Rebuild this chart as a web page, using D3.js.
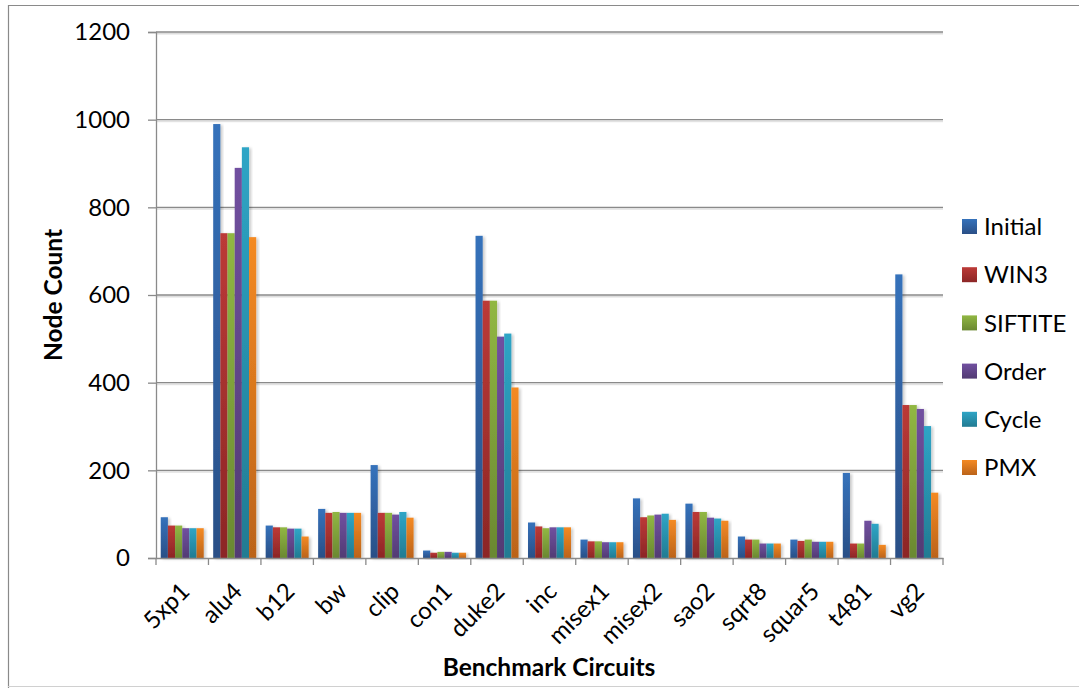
<!DOCTYPE html>
<html>
<head>
<meta charset="utf-8">
<script src="https://cdn.jsdelivr.net/npm/d3@7"></script>
<style>
  html, body { margin: 0; padding: 0; background: #fff; }
  svg { display: block; }
  text { font-family: Lato, "Open Sans", sans-serif; fill: #000; }
</style>
</head>
<body>
<svg id="chart" width="1079" height="688"></svg>
<script>
// Benchmark circuits on the x axis
const categories = ["5xp1", "alu4", "b12", "bw", "clip", "con1", "duke2", "inc",
  "misex1", "misex2", "sao2", "sqrt8", "squar5", "t481", "vg2"];

// Node count per method, one array per series
const seriesNames = ["Initial", "WIN3", "SIFTITE", "Order", "Cycle", "PMX"];
const initial = [93, 990, 74, 112, 212, 17, 735, 81, 42, 136, 124, 49, 42, 194, 647];
const win3    = [74, 741, 70, 103, 103, 12, 587, 72, 38, 93, 105, 42, 39, 33, 349];
const siftite = [74, 741, 70, 105, 103, 14, 587, 68, 38, 97, 105, 42, 42, 33, 349];
const order   = [68, 890, 67, 103, 99, 14, 505, 70, 36, 99, 92, 33, 37, 85, 340];
const cycle   = [68, 937, 67, 103, 105, 12, 512, 70, 36, 101, 90, 33, 37, 78, 301];
const pmx     = [68, 732, 49, 103, 92, 12, 389, 70, 36, 87, 85, 33, 37, 30, 149];
const seriesValues = [initial, win3, siftite, order, cycle, pmx];

const yTicks = [0, 200, 400, 600, 800, 1000, 1200];

// Gradient stops (top, bottom) for each series
const colors = [
  ["#3572bb", "#2a4f86"],
  ["#bc3a37", "#8c2626"],
  ["#91b743", "#6a8831"],
  ["#7150a0", "#523b73"],
  ["#2fa5c6", "#227b92"],
  ["#f48a24", "#bb6319"]
];

const svg = d3.select("#chart");
const defs = svg.append("defs");

colors.forEach((c, i) => {
  const g = defs.append("linearGradient")
    .attr("id", "grad" + i).attr("x1", 0).attr("y1", 0).attr("x2", 0).attr("y2", 1);
  g.append("stop").attr("offset", "0%").attr("stop-color", c[0]);
  g.append("stop").attr("offset", "100%").attr("stop-color", c[1]);
});

const shadow = defs.append("filter").attr("id", "shadow")
  .attr("x", "-50%").attr("y", "-10%").attr("width", "200%").attr("height", "130%");
shadow.append("feDropShadow").attr("dx", 2).attr("dy", 1)
  .attr("stdDeviation", 1.8).attr("flood-color", "#000").attr("flood-opacity", 0.22);

const lineShadow = defs.append("filter").attr("id", "lineShadow")
  .attr("filterUnits", "userSpaceOnUse")
  .attr("x", 0).attr("y", 0).attr("width", 1079).attr("height", 688);
lineShadow.append("feDropShadow").attr("dx", 0).attr("dy", 1.5)
  .attr("stdDeviation", 0.6).attr("flood-color", "#000").attr("flood-opacity", 0.18);

// Outer frame
svg.append("path")
  .attr("d", "M8.5,688 L8.5,5.5 L1079,5.5")
  .attr("fill", "none").attr("stroke", "#8a8a8a").attr("stroke-width", 1.2);
svg.append("line")
  .attr("x1", 8).attr("x2", 1079).attr("y1", 686.5).attr("y2", 686.5)
  .attr("stroke", "#d0d0d0").attr("stroke-width", 1);

const plotLeft = 156, plotRight = 943, plotTop = 32, plotBottom = 558;

const x = d3.scaleBand().domain(categories).range([plotLeft, plotRight]).paddingInner(0).paddingOuter(0);
const x1 = d3.scaleBand().domain(seriesNames).range([0, x.bandwidth()]).paddingInner(0).paddingOuter(0.66);
const y = d3.scaleLinear().domain([0, 1200]).range([plotBottom, plotTop]);

// Horizontal gridlines
svg.append("g")
  .attr("filter", "url(#lineShadow)")
  .selectAll("line").data(yTicks.filter(t => t > 0)).join("line")
  .attr("x1", plotLeft).attr("x2", plotRight)
  .attr("y1", d => y(d)).attr("y2", d => y(d))
  .attr("stroke", "#8a8a8a").attr("stroke-width", 1.3);

// Y axis
const yAxis = d3.axisLeft(y).tickValues(yTicks).tickFormat(d3.format("d")).tickSize(8).tickPadding(18);
const gy = svg.append("g").attr("transform", `translate(${plotLeft},0)`).call(yAxis);
gy.select(".domain").attr("stroke", "#8a8a8a").attr("stroke-width", 1.3);
gy.selectAll(".tick line").attr("stroke", "#8a8a8a").attr("stroke-width", 1.3);
gy.selectAll(".tick text").style("font-family", "Lato, sans-serif").style("font-size", "24px").attr("fill", "#000");

// Bars
const groups = svg.append("g").selectAll("g").data(categories).join("g")
  .attr("transform", d => `translate(${x(d)},0)`);

groups.selectAll("rect")
  .data((c, ci) => seriesNames.map((s, si) => ({ s, si, v: seriesValues[si][ci] })))
  .join("rect")
  .attr("x", d => x1(d.s))
  .attr("y", d => y(d.v))
  .attr("width", x1.bandwidth())
  .attr("height", d => y(0) - y(d.v))
  .attr("fill", d => `url(#grad${d.si})`)
  .attr("filter", "url(#shadow)");

// X axis
const xAxis = d3.axisBottom(x).tickSize(0).tickFormat("");
const gx = svg.append("g").attr("transform", `translate(0,${plotBottom})`).call(xAxis);
gx.select(".domain").attr("stroke", "#8a8a8a").attr("stroke-width", 1.3);
gx.selectAll(".tick").remove();

const boundaries = categories.map(c => x(c)).concat([plotRight]);
svg.append("g").selectAll("line").data(boundaries).join("line")
  .attr("x1", d => d).attr("x2", d => d)
  .attr("y1", plotBottom).attr("y2", plotBottom + 7)
  .attr("stroke", "#8a8a8a").attr("stroke-width", 1.3);

// Rotated category labels
svg.append("g").selectAll("text").data(categories).join("text")
  .attr("transform", d => `translate(${x(d) + x.bandwidth() / 2 + 3},${plotBottom + 29}) rotate(-45)`)
  .attr("text-anchor", "end")
  .attr("dy", "0.35em")
  .style("font-size", "24px")
  .text(d => d);

// Axis titles
svg.append("text")
  .attr("x", 549).attr("y", 676)
  .attr("text-anchor", "middle")
  .style("font-size", "24.5px").style("font-weight", "bold")
  .text("Benchmark Circuits");

svg.append("text")
  .attr("transform", "translate(62,295) rotate(-90)")
  .attr("text-anchor", "middle")
  .style("font-size", "24.5px").style("font-weight", "bold")
  .text("Node Count");

// Legend
const legend = svg.append("g").selectAll("g").data(seriesNames).join("g")
  .attr("transform", (d, i) => `translate(962,${226.5 + i * 48.2})`);
legend.append("rect")
  .attr("x", 0).attr("y", -7.5).attr("width", 15).attr("height", 15)
  .attr("fill", (d, i) => `url(#grad${i})`);
legend.append("text")
  .attr("x", 22).attr("dy", "0.36em")
  .style("font-size", "24px")
  .text(d => d);
</script>
</body>
</html>
